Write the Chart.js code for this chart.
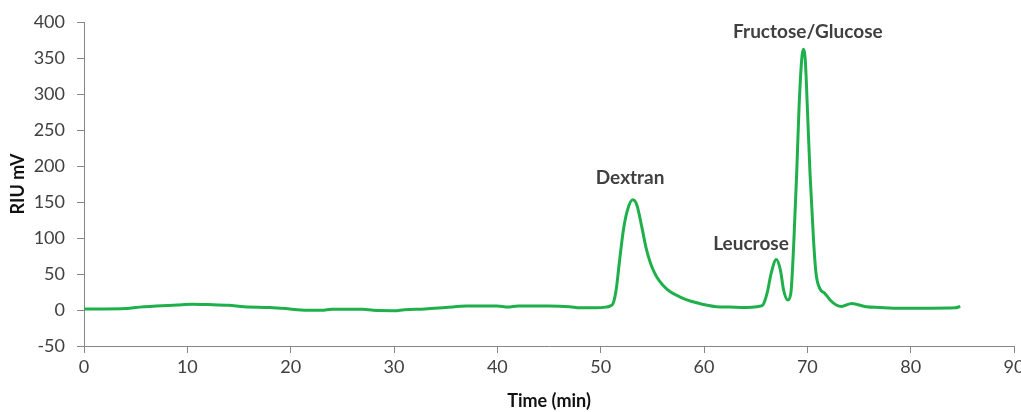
<!DOCTYPE html>
<html>
<head>
<meta charset="utf-8">
<script src="https://cdn.jsdelivr.net/npm/chart.js@4/dist/chart.umd.min.js"></script>
<style>
  html, body { margin: 0; padding: 0; background: #fff; }
  canvas { display: block; }
</style>
</head>
<body>
<canvas id="chart" width="1021" height="412"></canvas>
<script>
// RI detector trace, retention time in minutes vs signal in mV
var timeMin = [0, 2, 4, 5, 7, 9, 10.5, 12, 14, 15.5, 18, 19.5, 21, 23, 24, 27, 28, 30, 31, 33,
  35, 37, 40, 41, 42, 45, 47, 48, 49.5, 50.5, 50.9, 51.2, 51.5, 51.8, 52.2, 52.6, 53.1, 53.5, 54.0, 54.4,
  54.8, 55.2, 55.7, 56.4, 57.7, 59.3, 61.2, 62.5, 64.1, 65.3, 65.7, 66.1, 66.5, 67.0, 67.4, 67.7, 68.1, 68.4, 68.7, 68.97, 69.2,
  69.45, 69.6, 69.8, 70.0, 70.26, 70.6, 70.84, 71.2, 71.7, 72.2, 72.8, 73.3, 74.3, 75.7, 77, 79, 82, 84.3, 84.8]
var riuMv = [1.5, 1.5, 2, 3.5, 5.5, 7, 8, 7.5, 6.5, 4.5, 3.5, 2, 0, -0.5, 1, 1, -0.5, -1, 0.5, 1.5,
  3.5, 5.5, 5.5, 4, 5.5, 5.5, 4.5, 3, 3, 4, 5.5, 9, 28, 65, 111, 139, 153, 146, 114, 86,
  66, 52, 40, 29, 18, 10, 4.6, 4, 3.5, 5, 7, 23, 51, 70, 55, 28, 14, 23, 97, 190, 282,
  347, 362, 347, 282, 190, 97, 51, 30, 23, 14, 7, 5, 9, 4.5, 3.5, 2.5, 2.5, 3, 5]

// peak names and where their captions sit (time, mV)
var peakNames = ['Dextran', 'Leucrose', 'Fructose/Glucose']
var peakLabelTime = [52.85, 64.55, 70.05]
var peakLabelMv = [183, 92, 386]

var xTicks = { min: 0, max: 90, step: 10 }
var yTicks = { min: -50, max: 400, step: 50 }

var axisColor = '#868686'
var tickFont = { family: 'Lato, "DejaVu Sans", sans-serif', size: 18 }
var titleFont = { family: 'Lato, "DejaVu Sans", sans-serif', size: 18, weight: 'bold' }

var points = timeMin.map(function (t, i) { return { x: t, y: riuMv[i] } })

var peakCaptions = {
  id: 'peakCaptions',
  afterDatasetsDraw: function (chart) {
    var ctx = chart.ctx
    var xs = chart.scales.x
    var ys = chart.scales.y
    ctx.save()
    ctx.font = 'bold 19px Lato, "DejaVu Sans", sans-serif'
    ctx.fillStyle = '#404040'
    ctx.textAlign = 'center'
    ctx.textBaseline = 'middle'
    peakNames.forEach(function (name, i) {
      ctx.fillText(name, xs.getPixelForValue(peakLabelTime[i]), ys.getPixelForValue(peakLabelMv[i]))
    })
    ctx.restore()
  }
}

var ctx = document.getElementById('chart')

new Chart(ctx, {
  type: 'line',
  data: {
    datasets: [
      {
        data: points,
        borderColor: '#1FB04C',
        borderWidth: 3,
        pointRadius: 0,
        fill: false,
        cubicInterpolationMode: 'monotone'
      }
    ]
  },
  options: {
    responsive: false,
    animation: false,
    layout: {
      padding: { left: 0, right: 7, top: 22, bottom: 0 }
    },
    plugins: {
      legend: { display: false },
      tooltip: { enabled: false }
    },
    scales: {
      x: {
        type: 'linear',
        min: xTicks.min,
        max: xTicks.max,
        ticks: { stepSize: xTicks.step, padding: 3, color: '#404040', font: tickFont, maxRotation: 0 },
        grid: { drawOnChartArea: false, tickLength: 7, color: axisColor },
        border: { color: axisColor, width: 1 },
        title: { display: true, text: 'Time (min)', color: '#111', font: titleFont, padding: { top: 0, bottom: 0 } },
        afterFit: function (scale) {
          scale.height = 66
          scale.paddingLeft = 0
          scale.paddingRight = 0
        }
      },
      y: {
        min: yTicks.min,
        max: yTicks.max,
        ticks: { stepSize: yTicks.step, padding: 12, color: '#404040', font: tickFont },
        grid: { drawOnChartArea: false, tickLength: 7, color: axisColor },
        border: { color: axisColor, width: 1 },
        title: { display: true, text: 'RIU mV', color: '#111', font: titleFont, padding: { top: 7, bottom: 0 } },
        afterFit: function (scale) {
          scale.width = 84
          scale.paddingTop = 0
          scale.paddingBottom = 0
        }
      }
    }
  },
  plugins: [peakCaptions]
})
</script>
</body>
</html>
